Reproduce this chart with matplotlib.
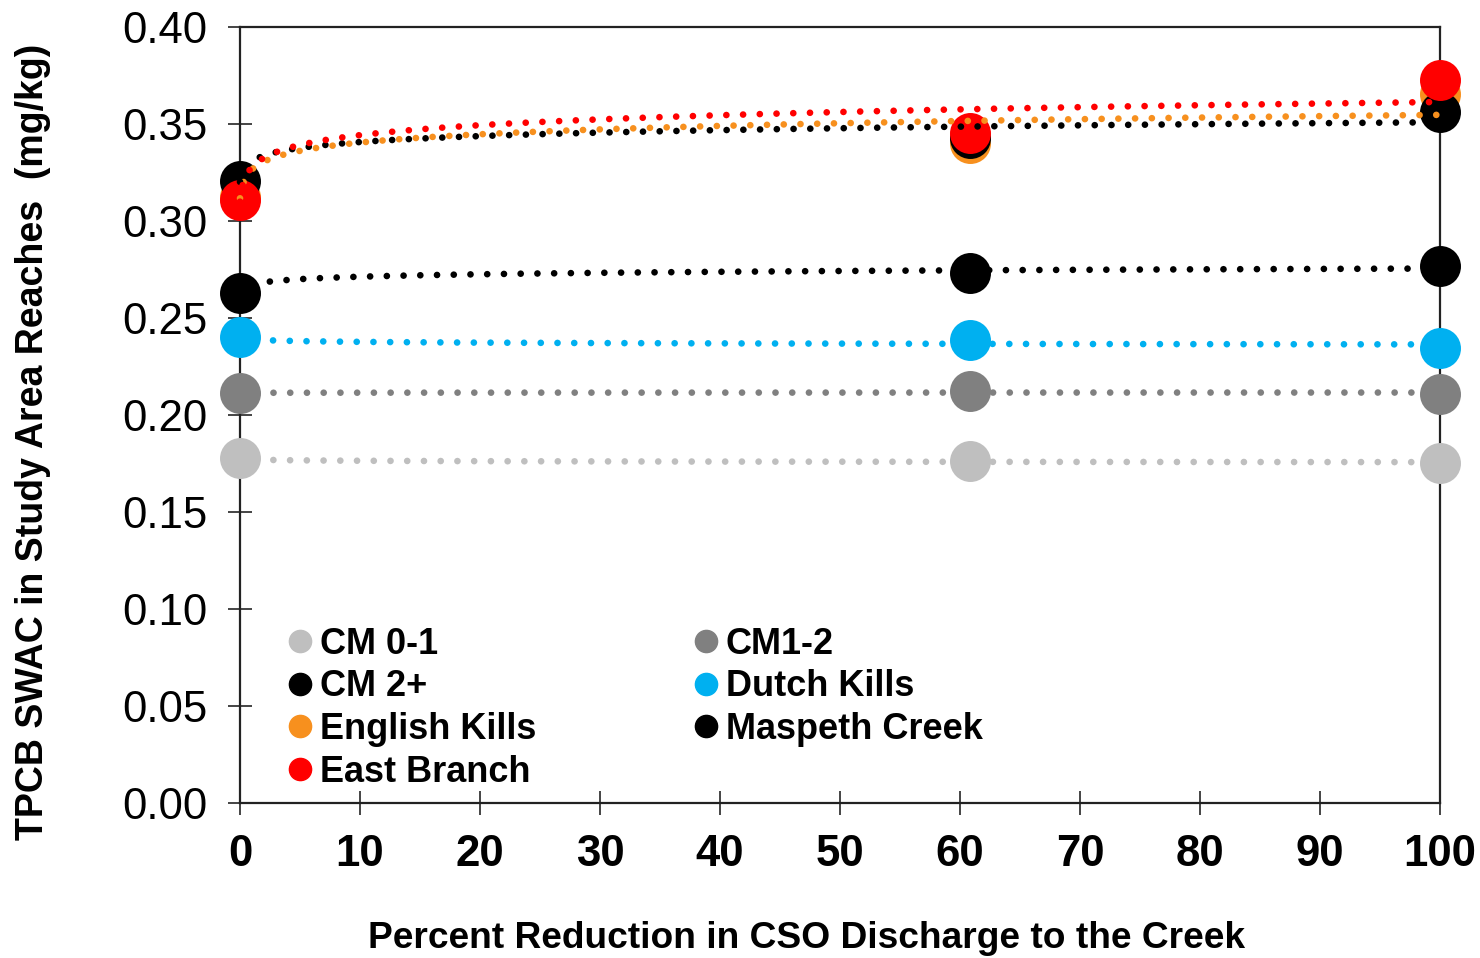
import numpy as np
import matplotlib.pyplot as plt
from matplotlib.lines import Line2D

plt.rcParams['font.family'] = ['Liberation Sans', 'DejaVu Sans']

# percent reduction in CSO discharge
x = np.array([0, 60.8, 100])

names = ["CM 0-1", "CM1-2", "CM 2+", "Dutch Kills", "English Kills", "Maspeth Creek", "East Branch"]
colors = ["#bfbfbf", "#808080", "#000000", "#00b0f0", "#f7901e", "#000000", "#ff0000"]

# TPCB SWAC values (mg/kg)
cm01 = [0.1778, 0.1763, 0.1753]
cm12 = [0.2113, 0.2124, 0.2108]
cm2p = [0.2629, 0.2732, 0.2768]
dutch = [0.2402, 0.2387, 0.2345]
english = [0.3125, 0.3400, 0.3655]
maspeth = [0.3206, 0.3430, 0.3562]
east = [0.3108, 0.3454, 0.3727]
series = [cm01, cm12, cm2p, dutch, english, maspeth, east]

fig = plt.figure(figsize=(14.8, 9.58), dpi=100)
ax = fig.add_axes([240/1480, 1 - 803/958, 1200/1480, 776/958])

# points
for i, (name, col, y) in enumerate(zip(names, colors, series)):
    ax.plot(x, y, 'o', color=col, markersize=29.5, markeredgewidth=0, zorder=3 + i * 0.1,
            clip_on=False, label=name)

# logarithmic trendlines on top of the markers
xt = np.linspace(0, 100, 500)
for col, y in zip(colors, series):
    b, a = np.polyfit(np.log(x + 0.1), y, 1)
    ax.plot(xt, a + b * np.log(xt + 0.1), color=col, lw=4.8, linestyle=(0, (0.01, 2.5)),
            dash_capstyle='round', zorder=5, clip_on=False)

ax.set_xlim(0, 100)
ax.set_ylim(0, 0.40)
ax.set_xticks(np.arange(0, 101, 10))
ax.set_yticks(np.arange(0, 0.401, 0.05))
ax.set_yticklabels([f"{v:.2f}" for v in np.arange(0, 0.401, 0.05)])
for s in ax.spines.values():
    s.set_linewidth(1.6)
    s.set_color("#222222")
ax.tick_params(axis='both', direction='inout', length=17, width=1.4, color="#444444")
ax.tick_params(axis='x', labelsize=31.5, pad=14)
ax.tick_params(axis='y', labelsize=31.5, pad=15)
for t in ax.get_xticklabels():
    t.set_fontweight('bold')

fig.text(807/1480, 1 - 938/958, "Percent Reduction in CSO Discharge to the Creek",
         fontsize=26.7, fontweight='bold', ha='center', va='center')
fig.text(33/1480, 1 - 442/958, "TPCB SWAC in Study Area Reaches  (mg/kg)",
         fontsize=27, fontweight='bold', ha='center', va='center', rotation=90)

# legend: two columns, filled row by row
order = [0, 2, 4, 6, 1, 3, 5]
handles = [Line2D([], [], marker='o', linestyle='none', color=colors[k], markersize=16) for k in order]
ax.legend(handles, [names[k] for k in order], ncol=2, loc='upper left', bbox_to_anchor=(0.041, 0.227),
          frameon=False, borderpad=0, borderaxespad=0, handlelength=0.6, handletextpad=0.25,
          columnspacing=4.4, labelspacing=0.21, prop={'size': 26, 'weight': 'bold'})

fig.savefig("out.png", dpi=100)
